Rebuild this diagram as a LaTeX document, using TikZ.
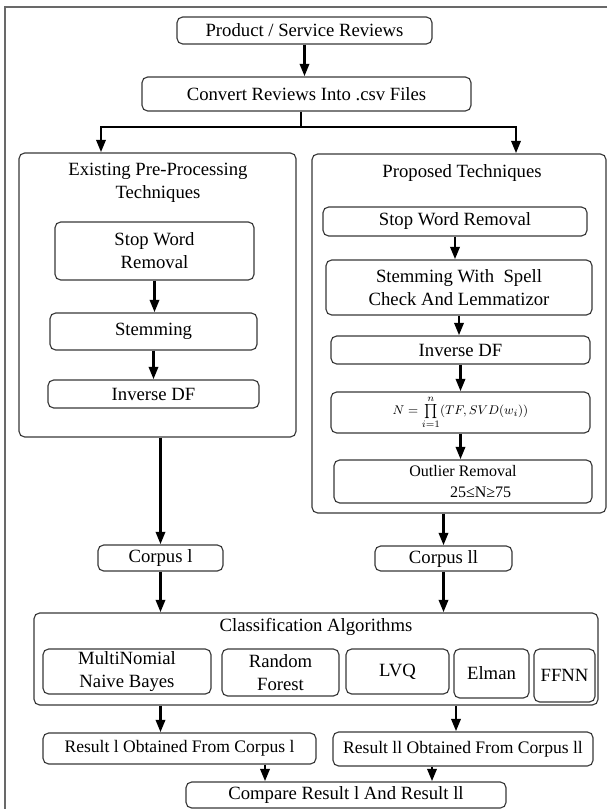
\documentclass[tikz,border=0pt]{standalone}
\usepackage{fontspec}
\setmainfont{Liberation Serif}
\usepackage{tikz}
\usetikzlibrary{arrows.meta, positioning, calc}
\definecolor{FlowEdge}{RGB}{55,55,55}
\definecolor{FlowFrame}{RGB}{105,105,105}

\tikzset{
  flowbox/.style={draw=FlowEdge, line width=0.8pt, rounded corners=4pt, align=center,
    inner sep=0pt, font=\fontsize{13.3}{16.5}\selectfont},
  boxsize/.style 2 args={minimum width=#1*0.25mm, minimum height=#2*0.25mm},
  flowtitle/.style={align=center, inner sep=0pt, font=\fontsize{13.3}{16.5}\selectfont},
  flowline/.style={line width=2.1pt},
  flowarrow/.style={line width=2.1pt, -{Triangle[length=9pt,width=6.5pt]}},
}

\begin{document}
\begin{tikzpicture}[x=0.25mm,y=-0.25mm]
  \path[use as bounding box] (0,0) rectangle (607,809);
  \draw[FlowFrame, line width=1.1pt] (607,7) -- (5,7) -- (5,809);

  % top of the flow
  \node[flowbox, boxsize={255}{27}] (prod) at (304.5,30.5) {Product / Service Reviews};
  \node[flowbox, boxsize={329}{34}] (conv) at (306.5,94) {Convert Reviews Into .csv Files};

  % the two branches
  \node[flowbox, boxsize={277}{284}] (exist) at (157.5,295) {};
  \node[flowbox, boxsize={294}{359}] (prop) at (459,333.5) {};
  \node[flowtitle] (existT) at (158,183) {Existing Pre-Processing\\Techniques};
  \node[flowtitle] (propT) at (462,173) {Proposed Techniques};

  \node[flowbox, boxsize={199}{58}] (lsw) at (154.5,251) {Stop Word\\Removal};
  \node[flowbox, boxsize={207}{37}] (lstem) at (153.5,331.5) {Stemming};
  \node[flowbox, boxsize={211}{28}] (lidf) at (153.5,394) {Inverse DF};

  \node[flowbox, boxsize={264}{29}] (rsw) at (455,221.5) {Stop Word Removal};
  \node[flowbox, boxsize={266}{55}] (rstem) at (459,287.5) {Stemming With~ Spell\\Check And Lemmatizor};
  \node[flowbox, boxsize={259}{28}] (ridf) at (460.5,350) {Inverse DF};
  \node[flowbox, boxsize={259}{41}, font=\fontsize{9.5}{10}\selectfont] (rform) at (460.5,412.5)
    {$N=\prod\limits_{i=1}^{n}(TF,SVD(w_i))$};
  \node[flowbox, boxsize={258}{43}, font=\fontsize{11.4}{15.5}\selectfont] (rout) at (463,481.5)
    {Outlier Removal\\\hspace*{2.2em}25≤N≥75};

  % corpora and classifiers
  \node[flowbox, boxsize={125}{26}] (corp1) at (160.5,558) {Corpus l};
  \node[flowbox, boxsize={137}{25}] (corp2) at (443.5,558.5) {Corpus ll};

  \node[flowbox, boxsize={564}{92}] (class) at (316,659) {};
  \node[flowtitle] (classT) at (316,627) {Classification Algorithms};
  \node[flowbox, boxsize={168}{45}] (mnb) at (127,671.5) {MultiNomial\\Naive Bayes};
  \node[flowbox, boxsize={117}{47}] (rf) at (280.5,672.5) {Random\\Forest};
  \node[flowbox, boxsize={103}{45}] (lvq) at (397.5,671.5) {LVQ};
  \node[flowbox, boxsize={75}{49}] (elman) at (491.5,673.5) {Elman};
  \node[flowbox, boxsize={61}{53}] (ffnn) at (564.5,675.5) {FFNN};

  % results
  \node[flowbox, boxsize={273}{31}, font=\fontsize{12.5}{15}\selectfont] (res1) at (179.5,748.5)
    {Result l Obtained From Corpus l};
  \node[flowbox, boxsize={260}{34}, font=\fontsize{12.5}{15}\selectfont] (res2) at (463,749)
    {Result ll Obtained From Corpus ll};
  \node[flowbox, boxsize={320}{26}] (comp) at (346,795) {Compare Result l And Result ll};

  % connectors
  \coordinate (split) at (301,127);
  \coordinate (splitL) at (101,127);
  \coordinate (splitR) at (516,127);
  \draw[flowline] (conv.south -| split) -- (split);
  \draw[flowarrow] (split) -| (splitL |- exist.north);
  \draw[flowarrow] (split) -| (splitR |- prop.north);

  \foreach \a/\b in {prod/conv, lsw/lstem, lstem/lidf, rsw/rstem, rstem/ridf, ridf/rform,
                     rform/rout, corp1/class, corp2/class}
    \draw[flowarrow] (\a.south) -- (\a.south |- \b.north);
  \foreach \a/\b in {exist/corp1, prop/corp2}
    \draw[flowarrow] (\b.north |- \a.south) -- (\b.north);

  \coordinate (clsR) at ($(class.south)+(140,0)$);
  \coordinate (cmpL) at ($(comp.north)+(-81,0)$);
  \coordinate (cmpR) at ($(comp.north)+(86,0)$);
  \draw[flowarrow] (class.south -| corp1) -- (res1.north -| corp1);
  \draw[flowarrow] (clsR) -- (clsR |- res2.north);
  \draw[flowarrow] (cmpL |- res1.south) -- (cmpL);
  \draw[flowarrow] (cmpR |- res2.south) -- (cmpR);
\end{tikzpicture}
\end{document}
